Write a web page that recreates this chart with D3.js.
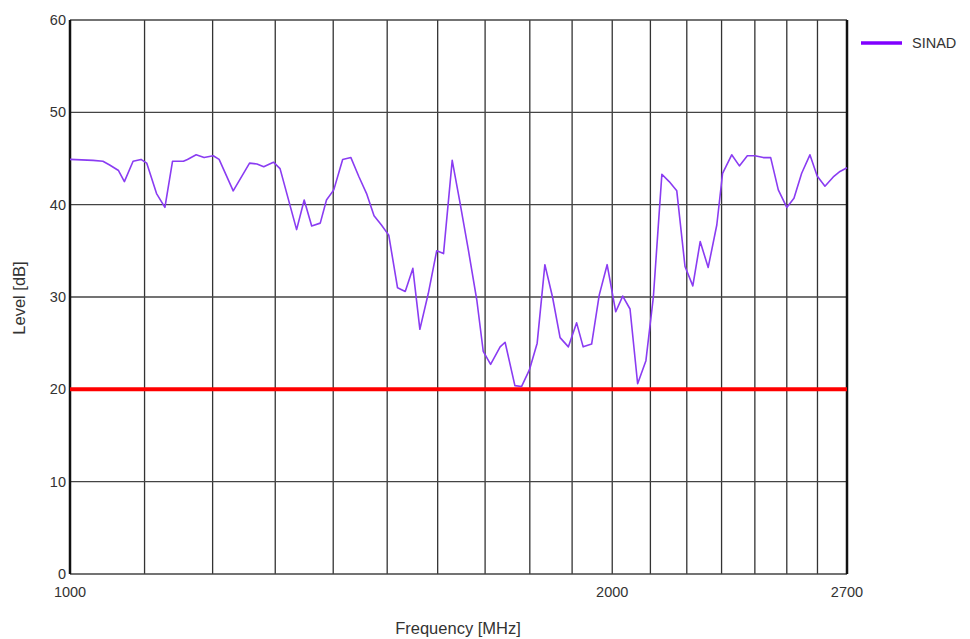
<!DOCTYPE html>
<meta charset="utf-8">
<script src="https://d3js.org/d3.v7.min.js"></script>
<style>
  body { margin: 0; background: #fff; }
  text { font-family: "Liberation Sans", Arial, sans-serif; fill: #333; }
</style>
<body>
<div id="chart"></div>
<script>
var freqs = [1000, 1030, 1043, 1052, 1064, 1072, 1084, 1095, 1103, 1117, 1129, 1140, 1156, 1162, 1175, 1187, 1201, 1210, 1232, 1258,
  1270, 1281, 1297, 1308, 1336, 1349, 1362, 1377, 1388, 1401, 1417, 1432, 1447, 1461, 1475, 1489, 1503, 1520, 1535, 1550,
  1564, 1581, 1598, 1612, 1630, 1646, 1664, 1682, 1696, 1712, 1733, 1744, 1766, 1781, 1799, 1817, 1835, 1853, 1871, 1891,
  1911, 1927, 1948, 1967, 1987, 2009, 2027, 2046, 2066, 2088, 2108, 2131, 2151, 2172, 2195, 2217, 2238, 2261, 2286, 2303,
  2330, 2353, 2377, 2400, 2426, 2449, 2473, 2500, 2523, 2548, 2575, 2599, 2625, 2653, 2676, 2700];
var sinad = [44.9, 44.8, 44.7, 44.3, 43.7, 42.5, 44.7, 44.9, 44.5, 41.2, 39.7, 44.7, 44.7, 44.9, 45.4, 45.1, 45.3, 44.9, 41.5, 44.5,
  44.4, 44.1, 44.6, 43.9, 37.3, 40.5, 37.7, 38.0, 40.5, 41.6, 44.9, 45.1, 43.0, 41.2, 38.8, 37.8, 36.7, 31.0, 30.6, 33.1,
  26.5, 30.4, 35.0, 34.7, 44.8, 40.3, 35.1, 29.7, 24.1, 22.7, 24.6, 25.1, 20.4, 20.3, 22.1, 25.0, 33.5, 30.0, 25.6, 24.6,
  27.2, 24.6, 24.9, 30.2, 33.5, 28.4, 30.1, 28.7, 20.6, 23.1, 30.0, 43.3, 42.5, 41.5, 33.3, 31.2, 36.0, 33.2, 37.8, 43.4,
  45.4, 44.2, 45.3, 45.3, 45.1, 45.1, 41.6, 39.7, 40.7, 43.4, 45.4, 43.1, 42.0, 43.0, 43.6, 44.0];
var limit = 20;
var xGrid = [1100, 1200, 1300, 1400, 1500, 1600, 1700, 1800, 1900, 2000, 2100, 2200, 2300, 2400, 2500, 2600];
var xLabels = [1000, 2000, 2700];
var yTicks = [0, 10, 20, 30, 40, 50, 60];

var W = 970, H = 639;
var margin = {top: 20, right: 123, bottom: 65, left: 70},
    width = W - margin.left - margin.right,
    height = H - margin.top - margin.bottom;

var svg = d3.select("#chart").append("svg")
    .attr("width", W).attr("height", H);
var g = svg.append("g")
    .attr("transform", "translate(" + margin.left + "," + margin.top + ")");

var x = d3.scaleLog().domain([1000, 2700]).range([0, width]);
var y = d3.scaleLinear().domain([0, 60]).range([height, 0]);

// grid
g.selectAll(".vgrid").data(xGrid).enter().append("line")
    .attr("x1", function(d) { return x(d); }).attr("x2", function(d) { return x(d); })
    .attr("y1", 0).attr("y2", height)
    .attr("stroke", "#333").attr("stroke-width", 1.3);
g.selectAll(".hgrid").data(yTicks).enter().append("line")
    .attr("x1", 0).attr("x2", width)
    .attr("y1", function(d) { return y(d); }).attr("y2", function(d) { return y(d); })
    .attr("stroke", "#444").attr("stroke-width", 1.3);

// frame sides
g.append("line").attr("x1", 0).attr("x2", 0).attr("y1", 0).attr("y2", height)
    .attr("stroke", "#111").attr("stroke-width", 2.5);
g.append("line").attr("x1", width).attr("x2", width).attr("y1", 0).attr("y2", height)
    .attr("stroke", "#111").attr("stroke-width", 2.5);

// axis labels
g.selectAll(".ylab").data(yTicks).enter().append("text")
    .attr("x", -4).attr("y", function(d) { return y(d); })
    .attr("text-anchor", "end").attr("dominant-baseline", "central")
    .style("font-size", "14.5px").text(function(d) { return d; });
g.selectAll(".xlab").data(xLabels).enter().append("text")
    .attr("x", function(d) { return x(d); }).attr("y", height + 18)
    .attr("text-anchor", "middle").attr("dominant-baseline", "central")
    .style("font-size", "14.5px").text(function(d) { return d; });

svg.append("text")
    .attr("x", 458).attr("y", 628)
    .attr("text-anchor", "middle").attr("dominant-baseline", "central")
    .style("font-size", "16.5px").text("Frequency [MHz]");
svg.append("text")
    .attr("transform", "translate(19,298) rotate(-90)")
    .attr("text-anchor", "middle").attr("dominant-baseline", "central")
    .style("font-size", "16.5px").text("Level [dB]");

// limit line
g.append("line")
    .attr("x1", 0).attr("x2", width)
    .attr("y1", y(limit)).attr("y2", y(limit))
    .attr("stroke", "#ff0000").attr("stroke-width", 4);

// SINAD
var pts = freqs.map(function(f, i) { return [f, sinad[i]]; });
g.append("path")
    .datum(pts)
    .attr("fill", "none")
    .attr("stroke", "#8a3cf2")
    .attr("stroke-width", 1.6)
    .attr("stroke-linejoin", "round")
    .attr("d", d3.line().x(function(d) { return x(d[0]); }).y(function(d) { return y(d[1]); }));

// legend
svg.append("line").attr("x1", 861).attr("x2", 902).attr("y1", 43).attr("y2", 43)
    .attr("stroke", "#8000ff").attr("stroke-width", 3.5);
svg.append("text").attr("x", 912).attr("y", 43)
    .attr("dominant-baseline", "central")
    .style("font-size", "14.5px").text("SINAD");
</script>
</body>
